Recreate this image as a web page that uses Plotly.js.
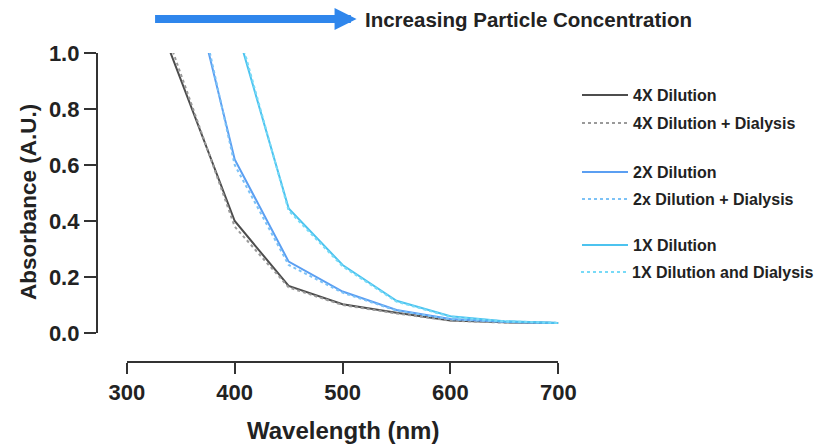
<!DOCTYPE html>
<html>
<head>
<meta charset="utf-8">
<script src="https://cdn.plot.ly/plotly-3.0.1.min.js"></script>
<style>html,body{margin:0;padding:0;background:#fff;}#chart{width:819px;height:444px;}</style>
</head>
<body>
<div id="chart"></div>
<script>
// Wavelength (nm)
const wavelength = [300, 400, 450, 500, 550, 600, 650, 700];
// Absorbance (A.U.) — values above 1.0 are off-scale (clipped by the axis range)
const dil4x      = [1.41, 0.40, 0.168, 0.103, 0.072, 0.045, 0.038, 0.036];
const dil4xDial  = [1.47, 0.38, 0.163, 0.100, 0.070, 0.044, 0.037, 0.036];
const dil2x      = [2.20, 0.62, 0.255, 0.148, 0.082, 0.050, 0.040, 0.036];
const dil2xDial  = [2.34, 0.60, 0.243, 0.144, 0.080, 0.049, 0.040, 0.036];
const dil1x      = [3.00, 1.11, 0.445, 0.243, 0.115, 0.060, 0.042, 0.036];
const dil1xDial  = [3.00, 1.13, 0.437, 0.238, 0.112, 0.058, 0.042, 0.036];

const seriesNames = ["4X Dilution", "4X Dilution + Dialysis", "2X Dilution",
                     "2x Dilution + Dialysis", "1X Dilution", "1X Dilution and Dialysis"];
const xTicks = [300, 400, 500, 600, 700];
const yTicks = [0, 0.2, 0.4, 0.6, 0.8, 1.0];
const yTickText = ["0.0", "0.2", "0.4", "0.6", "0.8", "1.0"];

const FONT = "Liberation Sans, Arial, Helvetica, sans-serif";
const W = 819, H = 444;
const px = v => v / W;
const py = v => (H - v) / H;

const styles = [
  {color: "#4d4d4d", dash: "solid"},
  {color: "#9a9a9a", dash: "3px,3px"},
  {color: "#5b9ff2", dash: "solid"},
  {color: "#7cc2f6", dash: "3px,3px"},
  {color: "#4cc3ef", dash: "solid"},
  {color: "#78daf7", dash: "3px,3px"}
];
const legendY = [95, 123, 172, 199, 245, 272];
const legendIds = ["legend", "legend2", "legend3", "legend4", "legend5", "legend6"];
const values = [dil4x, dil4xDial, dil2x, dil2xDial, dil1x, dil1xDial];

const traces = values.map((vals, i) => ({
  x: wavelength, y: vals, type: "scatter", mode: "lines",
  name: seriesNames[i], legend: legendIds[i],
  line: {color: styles[i].color, width: 2, dash: styles[i].dash},
  hoverinfo: "x+y+name"
}));

const layout = {
  width: W, height: H,
  margin: {l: 0, r: 0, t: 0, b: 0},
  paper_bgcolor: "#fff", plot_bgcolor: "#fff",
  font: {family: FONT, color: "#222"},
  showlegend: true,
  xaxis: {
    range: [300, 700], domain: [px(127), px(559)],
    anchor: "free", position: py(362),
    tickvals: xTicks, ticks: "outside", ticklen: 11, tickwidth: 2, tickcolor: "#333",
    showline: true, linewidth: 2, linecolor: "#333",
    showgrid: false, zeroline: false, automargin: false,
    tickfont: {family: FONT, size: 22, weight: 700, color: "#222"}
  },
  yaxis: {
    range: [0, 1.0], domain: [py(333), py(53)],
    anchor: "free", position: px(97),
    tickvals: yTicks, ticktext: yTickText, ticks: "outside", ticklen: 12, tickwidth: 2, tickcolor: "#333",
    showline: true, linewidth: 2, linecolor: "#333",
    showgrid: false, zeroline: false, automargin: false,
    tickfont: {family: FONT, size: 22, weight: 700, color: "#222"}
  },
  annotations: [
    {xref: "paper", yref: "paper", x: px(343), y: py(430), text: "Wavelength (nm)",
     showarrow: false, xanchor: "center", yanchor: "middle",
     font: {family: FONT, size: 24, weight: 700, color: "#222"}},
    {xref: "paper", yref: "paper", x: px(28), y: py(202), text: "Absorbance (A.U.)",
     showarrow: false, textangle: -90, xanchor: "center", yanchor: "middle",
     font: {family: FONT, size: 22.5, weight: 700, color: "#222"}},
    {xref: "paper", yref: "paper", x: px(357), y: py(19), text: "",
     showarrow: true, ax: -203, ay: 0, arrowhead: 2, arrowsize: 0.55, arrowwidth: 8,
     arrowcolor: "#2f86ec"},
    {xref: "paper", yref: "paper", x: px(363), y: py(20), text: "Increasing Particle Concentration",
     showarrow: false, xanchor: "left", yanchor: "middle",
     font: {family: FONT, size: 20.5, weight: 700, color: "#222"}}
  ]
};

legendIds.forEach((id, i) => {
  layout[id] = {
    x: px(577), y: py(legendY[i]), xanchor: "left", yanchor: "middle",
    font: {family: FONT, size: 16, weight: 700, color: "#222"},
    itemwidth: 46, bgcolor: "rgba(0,0,0,0)", borderwidth: 0
  };
});

Plotly.newPlot("chart", traces, layout, {displayModeBar: false, staticPlot: true});
</script>
</body>
</html>
